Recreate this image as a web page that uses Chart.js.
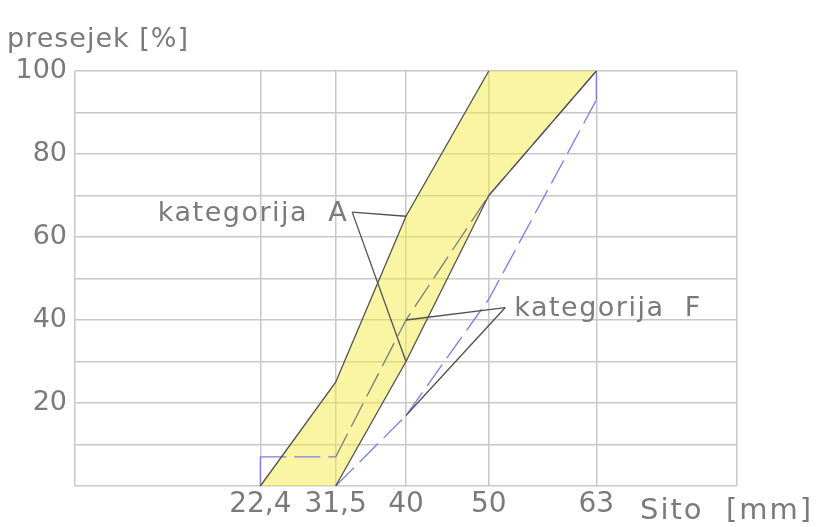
<!DOCTYPE html>
<html>
<head>
<meta charset="utf-8">
<script src="https://cdn.jsdelivr.net/npm/chart.js@4.4.0/dist/chart.umd.min.js"></script>
<style>
  html, body { margin: 0; padding: 0; background: #fff; }
</style>
</head>
<body>
<canvas id="sitoChart" width="827" height="527"></canvas>
<script>
// sita (mm) in presejek (%)
const sita = [22.4, 31.5, 40, 50, 63];

// kategorija A - zgornja in spodnja meja
const aZgornjaX = [22.4, 31.5, 40, 50, 63];
const aZgornja = [0, 25, 65, 100, 100];
const aSpodnjaX = [31.5, 40, 50, 63];
const aSpodnja = [0, 30, 70, 100];

// kategorija F - zgornja in spodnja meja
const fZgornjaX = [22.4, 22.4, 31.5, 40, 50, 63];
const fZgornja = [0, 7, 7, 40, 70, 100];
const fSpodnjaX = [31.5, 40, 50, 63, 63];
const fSpodnja = [0, 17, 45, 93, 100];

// kje stojita napisa
const oznakaA = { x: 33.5, y: 66 };
const oznakaF = { x: 52, y: 43 };

const tocke = (xs, ys) => xs.map((x, i) => ({ x: x, y: ys[i] }));

// pas A kot zaprt lik: zgornja meja, nato spodnja nazaj
const pasA = tocke(aZgornjaX, aZgornja).concat(tocke(aSpodnjaX, aSpodnja).reverse());

const siva = '#7a7a7a';
const modra = 'rgb(125, 125, 225)';
const crta = '#505050';

// rumeno polnilo pasu A, pod crtami
const polnilo = {
    id: 'polnilo',
    beforeDatasetsDraw(chart) {
        const ctx = chart.ctx;
        const x = chart.scales.x, y = chart.scales.y;
        ctx.save();
        ctx.beginPath();
        pasA.forEach((p, i) => {
            const px = x.getPixelForValue(p.x), py = y.getPixelForValue(p.y);
            if (i === 0) ctx.moveTo(px, py); else ctx.lineTo(px, py);
        });
        ctx.closePath();
        ctx.fillStyle = 'rgba(244, 234, 60, 0.47)';
        ctx.fill();
        ctx.restore();
    }
};

const napisi = {
    id: 'napisi',
    afterDraw(chart) {
        const ctx = chart.ctx;
        const x = chart.scales.x, y = chart.scales.y;
        ctx.save();
        ctx.fillStyle = siva;
        ctx.textBaseline = 'middle';
        ctx.textAlign = 'left';
        ctx.font = '27px "DejaVu Sans"';
        ctx.letterSpacing = '1px';
        ctx.fillText('presejek [%]', 7, 40);
        ctx.font = '29px "DejaVu Sans"';
        ctx.letterSpacing = '2px';
        ctx.fillText('Sito  [mm]', 640, 511);
        ctx.font = '27px "DejaVu Sans"';
        ctx.letterSpacing = '1.5px';
        ctx.textAlign = 'right';
        ctx.fillText('kategorija  A', x.getPixelForValue(oznakaA.x) - 4, y.getPixelForValue(oznakaA.y) + 2);
        ctx.textAlign = 'left';
        ctx.fillText('kategorija  F', x.getPixelForValue(oznakaF.x) + 9, y.getPixelForValue(oznakaF.y) + 1);
        ctx.restore();
    }
};

const kazalec = (od, doX, doY) => ({
    data: [{ x: od.x, y: od.y }, { x: doX, y: doY }],
    borderColor: crta,
    borderWidth: 1.3,
    pointRadius: 0,
    showLine: true,
    fill: false,
    clip: false
});

const ctx = document.getElementById('sitoChart').getContext('2d');
new Chart(ctx, {
    type: 'scatter',
    data: {
        datasets: [
            kazalec(oznakaA, 40, aZgornja[2]),
            kazalec(oznakaA, 40, aSpodnja[1]),
            kazalec(oznakaF, 40, fZgornja[3]),
            kazalec(oznakaF, 40, fSpodnja[1]),
            {
                label: 'A zgornja',
                data: tocke(aZgornjaX, aZgornja),
                showLine: true,
                pointRadius: 0,
                borderWidth: 1.3,
                borderColor: crta,
                clip: false,
                segment: {
                    borderColor: c => c.p0.parsed.y === c.p1.parsed.y ? 'rgba(0,0,0,0)' : crta
                }
            },
            {
                label: 'A spodnja',
                data: tocke(aSpodnjaX, aSpodnja),
                showLine: true,
                pointRadius: 0,
                borderWidth: 1.3,
                borderColor: crta,
                clip: false
            },
            {
                label: 'F spodnja',
                data: tocke(fSpodnjaX, fSpodnja),
                showLine: true,
                pointRadius: 0,
                borderWidth: 1.3,
                borderColor: modra,
                borderDash: [26, 8],
                clip: false,
                segment: {
                    borderDash: c => c.p0.parsed.x === c.p1.parsed.x ? [] : [26, 8]
                }
            },
            {
                label: 'F zgornja',
                data: tocke(fZgornjaX, fZgornja),
                showLine: true,
                pointRadius: 0,
                borderWidth: 1.3,
                borderColor: modra,
                borderDash: [26, 8],
                clip: false,
                segment: {
                    borderDash: c => c.p0.parsed.x === c.p1.parsed.x ? [] : [26, 8],
                    borderColor: c => (c.p0DataIndex === 2 || c.p0DataIndex === 3) ? '#7a7a7a' : modra
                }
            }
        ]
    },
    options: {
        responsive: false,
        animation: false,
        layout: { padding: { top: 71, right: 90, left: 0, bottom: 0 } },
        plugins: {
            legend: { display: false },
            tooltip: { enabled: false }
        },
        scales: {
            x: {
                type: 'linear',
                min: 0,
                max: 80,
                afterBuildTicks: s => { s.ticks = [0].concat(sita, [80]).map(v => ({ value: v })); },
                afterFit: s => { s.height = 41; },
                border: { display: false },
                grid: { color: '#c8c8c8', lineWidth: 1.5, drawTicks: false },
                ticks: {
                    autoSkip: false,
                    maxRotation: 0,
                    padding: 2,
                    color: siva,
                    font: { family: 'DejaVu Sans', size: 28 },
                    callback: v => sita.includes(v) ? String(v).replace('.', ',') : ''
                }
            },
            y: {
                min: 0,
                max: 100,
                afterFit: s => { s.width = 75; },
                border: { display: false },
                grid: { color: '#c8c8c8', lineWidth: 1.5, drawTicks: false },
                ticks: {
                    stepSize: 10,
                    padding: 8,
                    color: siva,
                    font: { family: 'DejaVu Sans', size: 27 },
                    callback: v => (v > 0 && v % 20 === 0) ? v : ''
                }
            }
        }
    },
    plugins: [polnilo, napisi]
});
</script>
</body>
</html>
